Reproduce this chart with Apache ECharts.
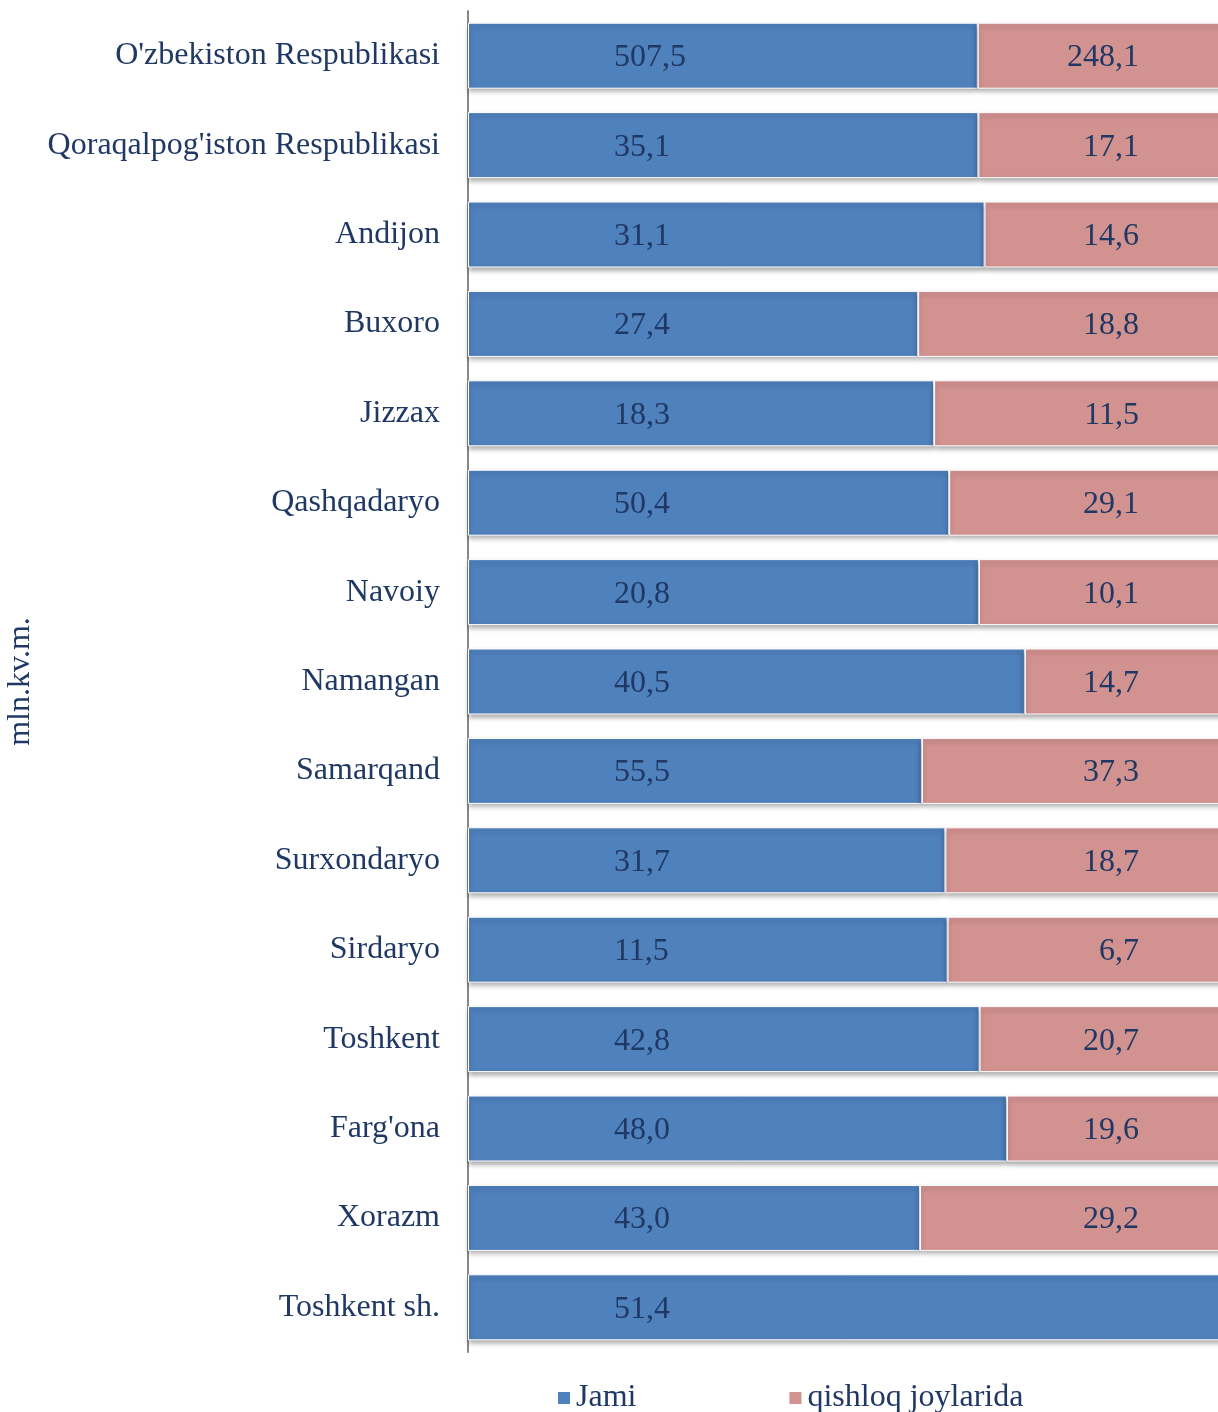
<!DOCTYPE html>
<html>
<head>
<meta charset="utf-8">
<script src="https://cdn.jsdelivr.net/npm/echarts@6/dist/echarts.min.js"></script>
<style>html,body{margin:0;padding:0;background:#fff}#c{width:1218px;height:1412px}</style>
</head>
<body>
<div id="c"></div>
<script>
const categories = ["O'zbekiston Respublikasi","Qoraqalpog'iston Respublikasi","Andijon","Buxoro","Jizzax","Qashqadaryo","Navoiy","Namangan","Samarqand","Surxondaryo","Sirdaryo","Toshkent","Farg'ona","Xorazm","Toshkent sh."];
const jami = [507.5,35.1,31.1,27.4,18.3,50.4,20.8,40.5,55.5,31.7,11.5,42.8,48.0,43.0,51.4];
const qishloq = [248.1,17.1,14.6,18.8,11.5,29.1,10.1,14.7,37.3,18.7,6.7,20.7,19.6,29.2,null];
const seriesNames = ["Jami","qishloq joylarida"];
const axisName = "mln.kv.m.";

const font = "'Liberation Serif','Times New Roman',serif";
const txt = "#1f3864";
const fmt = v => v.toFixed(1).replace('.', ',');
const totals = jami.map((v,i)=>v+(qishloq[i]||0));
const pct = (arr) => arr.map((v,i)=> v==null ? null : {value: v/totals[i]*100, raw: v});

const chart = echarts.init(document.getElementById('c'), null, {renderer:'canvas'});
const itemBase = {borderColor:'#fff', borderWidth:1, shadowBlur:5, shadowColor:'rgba(0,0,0,0.35)', shadowOffsetY:3};
chart.setOption({
  animation:false,
  grid:{left:468, width:759, top:11, height:1341, containLabel:false, outerBoundsMode:'none'},
  legend:{
    data:seriesNames, left:551, top:1377, itemWidth:14, itemHeight:14, itemGap:151,
    icon:'rect', textStyle:{fontFamily:font, fontSize:32, color:txt}
  },
  xAxis:{type:'value', min:0, max:100, show:false},
  yAxis:{
    type:'category', data:categories, inverse:true,
    axisLine:{show:true, lineStyle:{color:'#888', width:2}},
    axisTick:{show:false},
    axisLabel:{fontFamily:font, fontSize:32, color:txt, margin:28},
    name:axisName, nameLocation:'middle', nameGap:424, nameRotate:90,
    nameTextStyle:{fontFamily:font, fontSize:32, color:txt}
  },
  series:[
    {name:seriesNames[0], type:'bar', stack:'s', barWidth:66, data:pct(jami),
     itemStyle:Object.assign({color:'#4f81bd'}, itemBase),
     label:{show:true, position:'insideLeft', distance:146, offset:[0,2], fontFamily:font, fontSize:32, color:txt,
       formatter:p=>fmt(p.data.raw)}},
    {name:seriesNames[1], type:'bar', stack:'s', barWidth:66, data:pct(qishloq),
     itemStyle:Object.assign({color:'#d29290'}, itemBase),
     label:{show:true, position:'insideRight', distance:88, offset:[0,2], fontFamily:font, fontSize:32, color:txt,
       formatter:p=>fmt(p.data.raw)}}
  ]
});
</script>
</body>
</html>
